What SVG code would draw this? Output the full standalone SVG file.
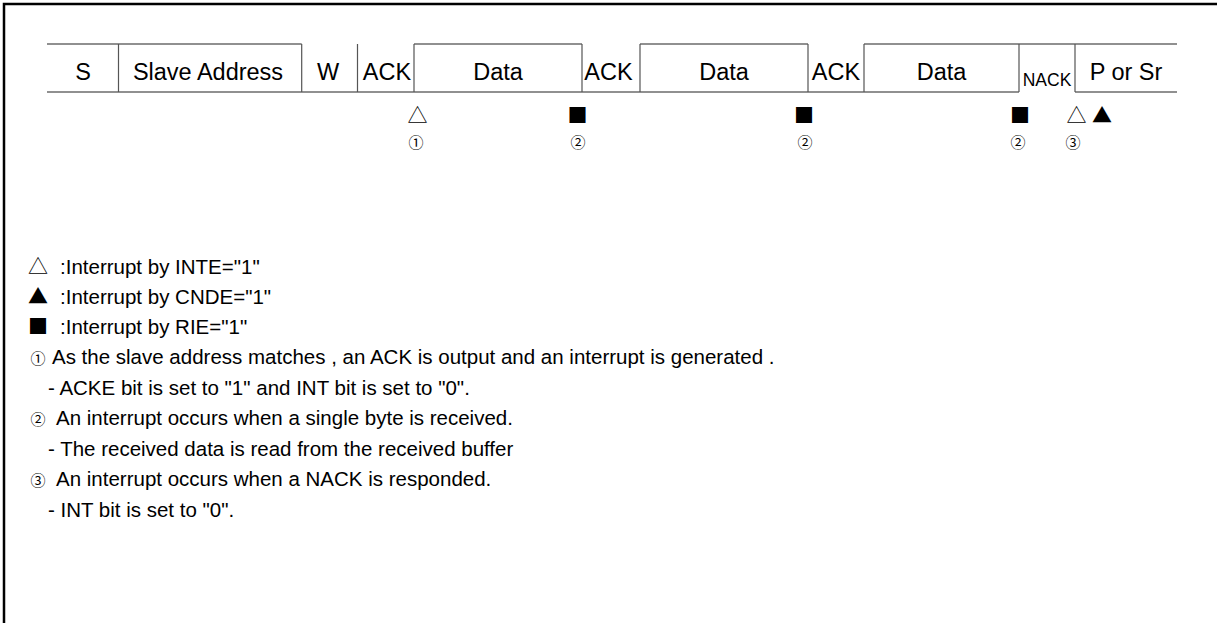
<svg xmlns="http://www.w3.org/2000/svg" width="1217" height="623" viewBox="0 0 1217 623">
<style>
  .row { font-family: "Liberation Sans", Arial, sans-serif; font-size: 23.5px; fill: #000; text-anchor: middle; }
  .nack { font-family: "Liberation Sans", Arial, sans-serif; font-size: 17.5px; fill: #000; text-anchor: middle; }
  .sym { font-family: "Noto Sans CJK JP", "DejaVu Sans", sans-serif; font-size: 20px; fill: #000; text-anchor: middle; }
  .num { font-family: "Noto Sans CJK JP", "DejaVu Sans", sans-serif; font-size: 15px; fill: #000; text-anchor: middle; }
  .leg { font-family: "Liberation Sans", Arial, sans-serif; font-size: 20.5px; fill: #000; }
  .hl { stroke: #222; stroke-width: 1.2; fill: none; }
  .vl { stroke: #555; stroke-width: 1.2; fill: none; }
  .frame { stroke: #000; stroke-width: 2.5; fill: none; }
</style>
<rect width="1217" height="623" fill="#fff"/>
<g id="frame">
  <path class="frame" d="M4,623 V4 H1217"/>
</g>
<g id="connectors">
  <path class="hl" d="M47,92 H1019 M1075,92 H1177"/>
  <path class="hl" d="M47,44 H301.7 M414,44 H582 M640,44 H808 M864,44 H1177"/>
  <path class="vl" d="M118.5,44 V92 M301.7,44 V92 M357.5,44 V92 M414,44 V92 M582,44 V92 M640,44 V92 M808,44 V92 M864,44 V92 M1019,44 V92 M1075,44 V92"/>
</g>
<g id="field-s"><text class="row" x="83" y="80">S</text></g>
<g id="field-addr"><text class="row" x="208" y="80">Slave Address</text></g>
<g id="field-w"><text class="row" x="328" y="80">W</text></g>
<g id="field-ack1"><text class="row" x="387" y="80">ACK</text></g>
<g id="field-data1"><text class="row" x="498" y="80">Data</text></g>
<g id="field-ack2"><text class="row" x="608.5" y="80">ACK</text></g>
<g id="field-data2"><text class="row" x="724" y="80">Data</text></g>
<g id="field-ack3"><text class="row" x="836" y="80">ACK</text></g>
<g id="field-data3"><text class="row" x="941.5" y="80">Data</text></g>
<g id="field-nack"><text class="nack" x="1047" y="86">NACK</text></g>
<g id="field-p"><text class="row" x="1126" y="80">P or Sr</text></g>
<g id="markers">
  <text class="sym" x="417.5" y="123">△</text>
  <text class="num" x="416" y="148">①</text>
  <text class="sym" x="577.5" y="123">■</text>
  <text class="num" x="578" y="148">②</text>
  <text class="sym" x="804" y="123">■</text>
  <text class="num" x="805" y="148">②</text>
  <text class="sym" x="1020" y="123">■</text>
  <text class="num" x="1018" y="148">②</text>
  <text class="sym" x="1076.5" y="123">△</text>
  <text class="sym" x="1102" y="123">▲</text>
  <text class="num" x="1073" y="148">③</text>
</g>
<g id="legend">
  <text class="sym" x="38" y="274">△</text><text class="leg" x="60" y="274">:Interrupt by INTE="1"</text>
  <text class="sym" x="38" y="304">▲</text><text class="leg" x="60" y="304">:Interrupt by CNDE="1"</text>
  <text class="sym" x="38" y="334">■</text><text class="leg" x="60" y="334">:Interrupt by RIE="1"</text>
  <text class="num" x="38" y="364">①</text><text class="leg" x="52" y="364">As the slave address matches , an ACK is output and an interrupt is generated .</text>
  <text class="leg" x="48" y="395">- ACKE bit is set to "1" and INT bit is set to "0".</text>
  <text class="num" x="38" y="425">②</text><text class="leg" x="56" y="425">An interrupt occurs when a single byte is received.</text>
  <text class="leg" x="48" y="456">- The received data is read from the received buffer</text>
  <text class="num" x="38" y="486">③</text><text class="leg" x="56" y="486">An interrupt occurs when a NACK is responded.</text>
  <text class="leg" x="48" y="517">- INT bit is set to "0".</text>
</g>
</svg>
